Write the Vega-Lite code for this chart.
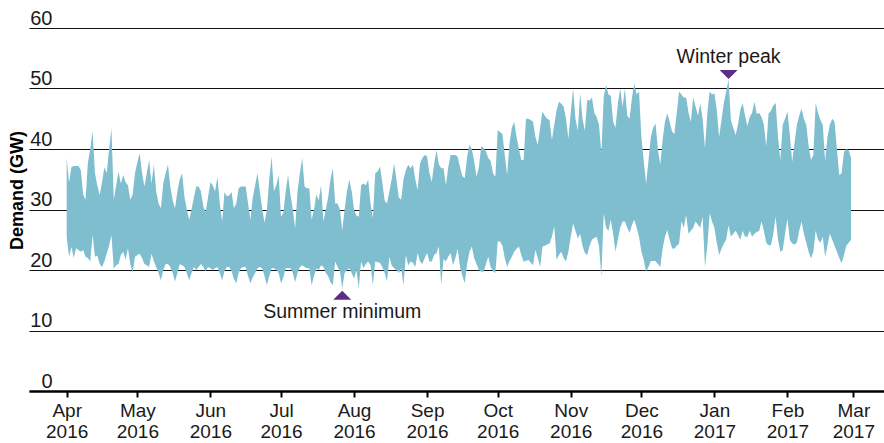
{
"$schema":"https://vega.github.io/schema/vega-lite/v6.json",
"width":855,"height":363,
"autosize":{"type":"none"},
"padding":{"left":29,"top":28,"right":0,"bottom":52},
"background":"white",
"config":{"view":{"stroke":null},"font":"Liberation Sans"},
"datasets":{
"notes":[
{"date":"2016-07-27","value":17,"label":"Summer minimum"},
{"date":"2017-01-07","value":51.5,"label":"Winter peak"}
],
"demand":[
{"date":"2016-04-01","high":38.5,"low":25.5},{"date":"2016-04-02","high":34.5,"low":22.2},{"date":"2016-04-03","high":37,"low":23.8},{"date":"2016-04-04","high":37.2,"low":22},{"date":"2016-04-05","high":37.2,"low":23.6},{"date":"2016-04-06","high":37.2,"low":23.3},{"date":"2016-04-07","high":36.5,"low":23},{"date":"2016-04-08","high":32.5,"low":23.3},{"date":"2016-04-09","high":31.6,"low":22.2},{"date":"2016-04-10","high":37.7,"low":22},
{"date":"2016-04-11","high":40,"low":21.4},{"date":"2016-04-12","high":42.9,"low":25.8},{"date":"2016-04-13","high":36,"low":22.2},{"date":"2016-04-14","high":34,"low":22.4},{"date":"2016-04-15","high":32.4,"low":21},{"date":"2016-04-16","high":34.5,"low":20.5},{"date":"2016-04-17","high":37,"low":21.4},{"date":"2016-04-18","high":36,"low":22.7},{"date":"2016-04-19","high":40,"low":24},{"date":"2016-04-20","high":43.4,"low":25.8},
{"date":"2016-04-21","high":31.6,"low":20.2},{"date":"2016-04-22","high":34,"low":20.8},{"date":"2016-04-23","high":36.3,"low":21},{"date":"2016-04-24","high":34.3,"low":22.5},{"date":"2016-04-25","high":35.7,"low":23},{"date":"2016-04-26","high":34.5,"low":21.7},{"date":"2016-04-27","high":34,"low":23.6},{"date":"2016-04-28","high":31.6,"low":21},{"date":"2016-04-29","high":32.5,"low":19.5},{"date":"2016-04-30","high":36,"low":22.2},
{"date":"2016-05-01","high":37.8,"low":22.5},{"date":"2016-05-02","high":39.3,"low":22.7},{"date":"2016-05-03","high":36,"low":22},{"date":"2016-05-04","high":33.8,"low":21},{"date":"2016-05-05","high":36,"low":20.8},{"date":"2016-05-06","high":38.2,"low":20.5},{"date":"2016-05-07","high":34.3,"low":22.7},{"date":"2016-05-08","high":37.4,"low":21.5},{"date":"2016-05-09","high":33,"low":20.5},{"date":"2016-05-10","high":31,"low":19.5},
{"date":"2016-05-11","high":30.2,"low":18.3},{"date":"2016-05-12","high":34.3,"low":20},{"date":"2016-05-13","high":36,"low":21},{"date":"2016-05-14","high":37.4,"low":21},{"date":"2016-05-15","high":33.8,"low":20.5},{"date":"2016-05-16","high":31.5,"low":19.5},{"date":"2016-05-17","high":30.2,"low":18.1},{"date":"2016-05-18","high":33,"low":19.5},{"date":"2016-05-19","high":35,"low":21},{"date":"2016-05-20","high":36,"low":20.8},
{"date":"2016-05-21","high":32.1,"low":20.5},{"date":"2016-05-22","high":30,"low":19.5},{"date":"2016-05-23","high":28.3,"low":18.3},{"date":"2016-05-24","high":30,"low":19.5},{"date":"2016-05-25","high":32,"low":20.5},{"date":"2016-05-26","high":33.8,"low":20},{"date":"2016-05-27","high":33.8,"low":20.5},{"date":"2016-05-28","high":33,"low":21},{"date":"2016-05-29","high":30.5,"low":20.5},{"date":"2016-05-30","high":29.6,"low":19.8},{"date":"2016-05-31","high":32,"low":20.5},
{"date":"2016-06-01","high":34.5,"low":20.3},{"date":"2016-06-02","high":34,"low":20},{"date":"2016-06-03","high":33,"low":20.3},{"date":"2016-06-04","high":35.4,"low":20.5},{"date":"2016-06-05","high":31,"low":19.5},{"date":"2016-06-06","high":28,"low":18.3},{"date":"2016-06-07","high":32.9,"low":19.8},{"date":"2016-06-08","high":32.2,"low":20.5},{"date":"2016-06-09","high":32.3,"low":20.5},{"date":"2016-06-10","high":32.9,"low":19.8},
{"date":"2016-06-11","high":30.2,"low":18.5},{"date":"2016-06-12","high":31,"low":17.8},{"date":"2016-06-13","high":33.5,"low":19.5},{"date":"2016-06-14","high":33.8,"low":20.3},{"date":"2016-06-15","high":33.8,"low":20.5},{"date":"2016-06-16","high":33.8,"low":20.5},{"date":"2016-06-17","high":31,"low":19},{"date":"2016-06-18","high":28.3,"low":17.8},{"date":"2016-06-19","high":32,"low":18.8},{"date":"2016-06-20","high":34,"low":19.5},
{"date":"2016-06-21","high":36,"low":20.3},{"date":"2016-06-22","high":33,"low":20.5},{"date":"2016-06-23","high":30.2,"low":20.3},{"date":"2016-06-24","high":27.8,"low":19},{"date":"2016-06-25","high":30,"low":17.5},{"date":"2016-06-26","high":35,"low":19},{"date":"2016-06-27","high":38.7,"low":20.3},{"date":"2016-06-28","high":33,"low":20.3},{"date":"2016-06-29","high":34,"low":20},{"date":"2016-06-30","high":35.7,"low":19.5},
{"date":"2016-07-01","high":28.8,"low":17.8},{"date":"2016-07-02","high":29.5,"low":18.8},{"date":"2016-07-03","high":33,"low":20.3},{"date":"2016-07-04","high":35.7,"low":20.3},{"date":"2016-07-05","high":32.5,"low":20.3},{"date":"2016-07-06","high":30,"low":19.5},{"date":"2016-07-07","high":26.9,"low":18},{"date":"2016-07-08","high":33,"low":19.5},{"date":"2016-07-09","high":36,"low":20.5},{"date":"2016-07-10","high":38.5,"low":20.8},
{"date":"2016-07-11","high":33.8,"low":20.5},{"date":"2016-07-12","high":33.5,"low":20.3},{"date":"2016-07-13","high":33.5,"low":20.3},{"date":"2016-07-14","high":28.3,"low":17.5},{"date":"2016-07-15","high":30,"low":19},{"date":"2016-07-16","high":32.5,"low":20.3},{"date":"2016-07-17","high":31.5,"low":20},{"date":"2016-07-18","high":34,"low":20.8},{"date":"2016-07-19","high":28,"low":20.5},{"date":"2016-07-20","high":30,"low":19.5},
{"date":"2016-07-21","high":32,"low":19},{"date":"2016-07-22","high":35,"low":18},{"date":"2016-07-23","high":36.8,"low":17.5},{"date":"2016-07-24","high":31,"low":21.4},{"date":"2016-07-25","high":31,"low":20.5},{"date":"2016-07-26","high":30,"low":19.8},{"date":"2016-07-27","high":26.6,"low":17},{"date":"2016-07-28","high":30,"low":19.5},{"date":"2016-07-29","high":33,"low":20},{"date":"2016-07-30","high":34.9,"low":20.3},{"date":"2016-07-31","high":33,"low":19.5},
{"date":"2016-08-01","high":30,"low":18.6},{"date":"2016-08-02","high":29,"low":20},{"date":"2016-08-03","high":28.8,"low":17},{"date":"2016-08-04","high":34,"low":21.4},{"date":"2016-08-05","high":34.3,"low":20.3},{"date":"2016-08-06","high":34,"low":21},{"date":"2016-08-07","high":34.9,"low":21.4},{"date":"2016-08-08","high":31,"low":20.8},{"date":"2016-08-09","high":28.6,"low":17.5},{"date":"2016-08-10","high":36,"low":21.4},
{"date":"2016-08-11","high":36.3,"low":21.3},{"date":"2016-08-12","high":37.1,"low":21.2},{"date":"2016-08-13","high":34.5,"low":20.5},{"date":"2016-08-14","high":31.5,"low":19.5},{"date":"2016-08-15","high":31,"low":18.1},{"date":"2016-08-16","high":33,"low":22.2},{"date":"2016-08-17","high":35,"low":20.8},{"date":"2016-08-18","high":37.6,"low":20.3},{"date":"2016-08-19","high":35,"low":20},{"date":"2016-08-20","high":32,"low":19.5},
{"date":"2016-08-21","high":31.6,"low":20.3},{"date":"2016-08-22","high":35,"low":17.5},{"date":"2016-08-23","high":36.5,"low":22.5},{"date":"2016-08-24","high":37.4,"low":20.8},{"date":"2016-08-25","high":36.8,"low":21.4},{"date":"2016-08-26","high":37.4,"low":21.2},{"date":"2016-08-27","high":35,"low":20.5},{"date":"2016-08-28","high":33.2,"low":22.8},{"date":"2016-08-29","high":37.6,"low":21.4},{"date":"2016-08-30","high":38.5,"low":21},{"date":"2016-08-31","high":39,"low":22},
{"date":"2016-09-01","high":38.8,"low":22.8},{"date":"2016-09-02","high":36,"low":21.4},{"date":"2016-09-03","high":34.6,"low":21.4},{"date":"2016-09-04","high":37.5,"low":22.5},{"date":"2016-09-05","high":39.8,"low":22.8},{"date":"2016-09-06","high":37.5,"low":23.9},{"date":"2016-09-07","high":36.8,"low":17.5},{"date":"2016-09-08","high":36.8,"low":21.8},{"date":"2016-09-09","high":34,"low":21.4},{"date":"2016-09-10","high":37,"low":22.2},
{"date":"2016-09-11","high":39,"low":22.8},{"date":"2016-09-12","high":39,"low":20.8},{"date":"2016-09-13","high":39,"low":22},{"date":"2016-09-14","high":38.7,"low":23.5},{"date":"2016-09-15","high":37,"low":20.5},{"date":"2016-09-16","high":35.5,"low":19},{"date":"2016-09-17","high":35.2,"low":17.8},{"date":"2016-09-18","high":38.7,"low":21},{"date":"2016-09-19","high":40.7,"low":23},{"date":"2016-09-20","high":40,"low":23.9},
{"date":"2016-09-21","high":38,"low":22},{"date":"2016-09-22","high":35.4,"low":21},{"date":"2016-09-23","high":37,"low":20},{"date":"2016-09-24","high":40.4,"low":19.7},{"date":"2016-09-25","high":40.2,"low":19.7},{"date":"2016-09-26","high":39.6,"low":21},{"date":"2016-09-27","high":38.5,"low":22.2},{"date":"2016-09-28","high":38,"low":20.5},{"date":"2016-09-29","high":36,"low":19.8},{"date":"2016-09-30","high":35.4,"low":19.5},
{"date":"2016-10-01","high":43.1,"low":24.7},{"date":"2016-10-02","high":42.8,"low":24.7},{"date":"2016-10-03","high":42.5,"low":24},{"date":"2016-10-04","high":39,"low":22},{"date":"2016-10-05","high":35.7,"low":20.5},{"date":"2016-10-06","high":41,"low":21.5},{"date":"2016-10-07","high":43.5,"low":22.2},{"date":"2016-10-08","high":44.5,"low":23},{"date":"2016-10-09","high":42,"low":23.5},{"date":"2016-10-10","high":40,"low":23.9},
{"date":"2016-10-11","high":38.2,"low":22.5},{"date":"2016-10-12","high":38.2,"low":21.4},{"date":"2016-10-13","high":45,"low":21.5},{"date":"2016-10-14","high":45,"low":21.7},{"date":"2016-10-15","high":44.8,"low":21.2},{"date":"2016-10-16","high":44.5,"low":20.8},{"date":"2016-10-17","high":42,"low":23.3},{"date":"2016-10-18","high":40.7,"low":22},{"date":"2016-10-19","high":43.5,"low":20.5},{"date":"2016-10-20","high":46.2,"low":23.9},
{"date":"2016-10-21","high":45.5,"low":24},{"date":"2016-10-22","high":45,"low":24.2},{"date":"2016-10-23","high":44.8,"low":24.4},{"date":"2016-10-24","high":41.5,"low":25.5},{"date":"2016-10-25","high":44,"low":27.2},{"date":"2016-10-26","high":46.4,"low":21.7},{"date":"2016-10-27","high":47.8,"low":22.5},{"date":"2016-10-28","high":47.5,"low":23},{"date":"2016-10-29","high":47,"low":22},{"date":"2016-10-30","high":45,"low":21.4},{"date":"2016-10-31","high":41.7,"low":23},
{"date":"2016-11-01","high":46,"low":25.5},{"date":"2016-11-02","high":50,"low":27.7},{"date":"2016-11-03","high":45,"low":26.5},{"date":"2016-11-04","high":43,"low":25.2},{"date":"2016-11-05","high":49.2,"low":26},{"date":"2016-11-06","high":45,"low":24},{"date":"2016-11-07","high":43,"low":22.8},{"date":"2016-11-08","high":48.1,"low":22.5},{"date":"2016-11-09","high":48,"low":24},{"date":"2016-11-10","high":48.5,"low":25},
{"date":"2016-11-11","high":46,"low":25.3},{"date":"2016-11-12","high":45.3,"low":25.5},{"date":"2016-11-13","high":44,"low":24},{"date":"2016-11-14","high":39.3,"low":18.9},{"date":"2016-11-15","high":48.6,"low":29.4},{"date":"2016-11-16","high":50.6,"low":27},{"date":"2016-11-17","high":49,"low":26.5},{"date":"2016-11-18","high":48.8,"low":28.3},{"date":"2016-11-19","high":44.5,"low":26},{"date":"2016-11-20","high":43.5,"low":23},
{"date":"2016-11-21","high":47.5,"low":25},{"date":"2016-11-22","high":50,"low":27},{"date":"2016-11-23","high":47,"low":28},{"date":"2016-11-24","high":50,"low":28},{"date":"2016-11-25","high":45.5,"low":27},{"date":"2016-11-26","high":45,"low":26.1},{"date":"2016-11-27","high":48.5,"low":27.5},{"date":"2016-11-28","high":50.8,"low":28.3},{"date":"2016-11-29","high":49,"low":27},{"date":"2016-11-30","high":49.5,"low":25.5},
{"date":"2016-12-01","high":42,"low":23},{"date":"2016-12-02","high":38,"low":21.7},{"date":"2016-12-03","high":34.3,"low":19.7},{"date":"2016-12-04","high":38,"low":20.5},{"date":"2016-12-05","high":42,"low":21.5},{"date":"2016-12-06","high":43.5,"low":21.5},{"date":"2016-12-07","high":44.2,"low":21.5},{"date":"2016-12-08","high":40,"low":21},{"date":"2016-12-09","high":37.4,"low":20.5},{"date":"2016-12-10","high":41.5,"low":23.5},
{"date":"2016-12-11","high":44.5,"low":25.5},{"date":"2016-12-12","high":45.9,"low":26.6},{"date":"2016-12-13","high":44.5,"low":25},{"date":"2016-12-14","high":42.9,"low":23.6},{"date":"2016-12-15","high":42.5,"low":23.5},{"date":"2016-12-16","high":46,"low":24},{"date":"2016-12-17","high":49.5,"low":24.4},{"date":"2016-12-18","high":49,"low":28},{"date":"2016-12-19","high":48.5,"low":27},{"date":"2016-12-20","high":48.5,"low":29.1},
{"date":"2016-12-21","high":46,"low":26},{"date":"2016-12-22","high":44.5,"low":26.5},{"date":"2016-12-23","high":48.5,"low":27},{"date":"2016-12-24","high":47,"low":28},{"date":"2016-12-25","high":45.5,"low":27.5},{"date":"2016-12-26","high":47.5,"low":27},{"date":"2016-12-27","high":45,"low":28.8},{"date":"2016-12-28","high":40.1,"low":20.5},{"date":"2016-12-29","high":46,"low":24},{"date":"2016-12-30","high":49.5,"low":29.4},{"date":"2016-12-31","high":49,"low":28},
{"date":"2017-01-01","high":49.2,"low":27},{"date":"2017-01-02","high":46.5,"low":24.5},{"date":"2017-01-03","high":42,"low":22.5},{"date":"2017-01-04","high":44.8,"low":23.5},{"date":"2017-01-05","high":47.6,"low":24.4},{"date":"2017-01-06","high":49.5,"low":25},{"date":"2017-01-07","high":51.5,"low":27.4},{"date":"2017-01-08","high":44.8,"low":25.5},{"date":"2017-01-09","high":43.5,"low":26},{"date":"2017-01-10","high":42.3,"low":26.5},
{"date":"2017-01-11","high":44,"low":25.8},{"date":"2017-01-12","high":46.5,"low":25},{"date":"2017-01-13","high":47.6,"low":26.5},{"date":"2017-01-14","high":45.5,"low":25.5},{"date":"2017-01-15","high":43.8,"low":25.5},{"date":"2017-01-16","high":45.3,"low":26.5},{"date":"2017-01-17","high":46,"low":25.5},{"date":"2017-01-18","high":47.8,"low":26},{"date":"2017-01-19","high":45.8,"low":26.3},{"date":"2017-01-20","high":46,"low":26.5},
{"date":"2017-01-21","high":45.3,"low":28},{"date":"2017-01-22","high":44,"low":26.5},{"date":"2017-01-23","high":40.4,"low":24.5},{"date":"2017-01-24","high":45.9,"low":24.1},{"date":"2017-01-25","high":46.3,"low":24.1},{"date":"2017-01-26","high":47.2,"low":26},{"date":"2017-01-27","high":47.6,"low":28.8},{"date":"2017-01-28","high":42,"low":25},{"date":"2017-01-29","high":38.2,"low":23},{"date":"2017-01-30","high":44,"low":23.3},{"date":"2017-01-31","high":45,"low":26},
{"date":"2017-02-01","high":46.2,"low":28.5},{"date":"2017-02-02","high":42.5,"low":25},{"date":"2017-02-03","high":37.9,"low":24.4},{"date":"2017-02-04","high":41,"low":24.2},{"date":"2017-02-05","high":44,"low":24.5},{"date":"2017-02-06","high":45.5,"low":26.5},{"date":"2017-02-07","high":46.7,"low":28},{"date":"2017-02-08","high":45,"low":26},{"date":"2017-02-09","high":44,"low":24.5},{"date":"2017-02-10","high":40.5,"low":23},
{"date":"2017-02-11","high":38.2,"low":21.9},{"date":"2017-02-12","high":39,"low":23},{"date":"2017-02-13","high":47.6,"low":26.5},{"date":"2017-02-14","high":46,"low":25},{"date":"2017-02-15","high":44.8,"low":24.5},{"date":"2017-02-16","high":44,"low":25.5},{"date":"2017-02-17","high":38,"low":22.2},{"date":"2017-02-18","high":42,"low":24},{"date":"2017-02-19","high":44,"low":26},{"date":"2017-02-20","high":45,"low":25},
{"date":"2017-02-21","high":44.5,"low":24},{"date":"2017-02-22","high":40,"low":23},{"date":"2017-02-23","high":35.7,"low":22},{"date":"2017-02-24","high":36,"low":21.1},{"date":"2017-02-25","high":39.5,"low":22.5},{"date":"2017-02-26","high":40,"low":24},{"date":"2017-02-27","high":39.8,"low":24.5},{"date":"2017-02-28","high":38.5,"low":25}
]},
"encoding":{
 "x":{"field":"date","type":"temporal",
  "scale":{"type":"utc","domain":[{"year":2016,"month":3,"date":16,"utc":true},{"year":2017,"month":3,"date":14,"utc":true}]},
  "axis":{"title":null,"grid":false,"tickCount":{"interval":"month","step":1},
   "labelExpr":"[utcFormat(datum.value, '%b'), utcFormat(datum.value, '%Y')]",
   "labelFont":"Liberation Sans","labelFontSize":19,"labelColor":"#1a1a1a","labelLineHeight":21,"labelPadding":4,"labelFlush":false,"labelOverlap":false,
   "domainColor":"#000","domainWidth":2.5,"tickColor":"#000","tickWidth":2,"tickSize":6}}
},
"layer":[
{"data":{"name":"demand"},
 "mark":{"type":"area","color":"#7fbecf","opacity":1},
 "encoding":{
  "y":{"field":"high","type":"quantitative",
   "scale":{"domain":[0,60],"nice":false,"zero":true},
   "axis":{"title":"Demand (GW)","values":[0,10,20,30,40,50,60],"grid":true,"gridColor":"#111","gridWidth":1,
    "domain":false,"ticks":false,"tickSize":0,"labelAlign":"right","labelBaseline":"alphabetic","labelPadding":-23,"labelOffset":-4,
    "labelFont":"Liberation Sans","labelFontSize":20,"labelColor":"#1a1a1a","labelOverlap":false,"labelFlush":false,
    "titleFont":"Liberation Sans","titleFontSize":18,"titleFontWeight":"bold","titleColor":"#000","titleAngle":-90,
    "titleAlign":"center","titleBaseline":"middle","titleX":-12,"titleY":162}},
  "y2":{"field":"low"}
 }},
{"data":{"name":"notes"},
 "transform":[{"filter":"datum.label === 'Winter peak'"}],
 "mark":{"type":"point","shape":"M-1,-0.5L1,-0.5L0,0.5Z","filled":true,"color":"#5b2d86","opacity":1,"size":324,"yOffset":-5},
 "encoding":{"y":{"field":"value","type":"quantitative","title":"Demand (GW)"}}},
{"data":{"name":"notes"},
 "transform":[{"filter":"datum.label === 'Summer minimum'"}],
 "mark":{"type":"point","shape":"M-1,0.5L1,0.5L0,-0.5Z","filled":true,"color":"#5b2d86","opacity":1,"size":324,"yOffset":7},
 "encoding":{"y":{"field":"value","type":"quantitative","title":"Demand (GW)"}}},
{"data":{"name":"notes"},
 "transform":[{"filter":"datum.label === 'Winter peak'"}],
 "mark":{"type":"text","font":"Liberation Sans","fontSize":19.5,"color":"#1a1a1a","align":"center","baseline":"alphabetic","dy":-16},
 "encoding":{"y":{"field":"value","type":"quantitative","title":"Demand (GW)"},"text":{"field":"label"}}},
{"data":{"name":"notes"},
 "transform":[{"filter":"datum.label === 'Summer minimum'"}],
 "mark":{"type":"text","font":"Liberation Sans","fontSize":19.5,"color":"#1a1a1a","align":"center","baseline":"alphabetic","dy":30},
 "encoding":{"y":{"field":"value","type":"quantitative","title":"Demand (GW)"},"text":{"field":"label"}}}
]
}
